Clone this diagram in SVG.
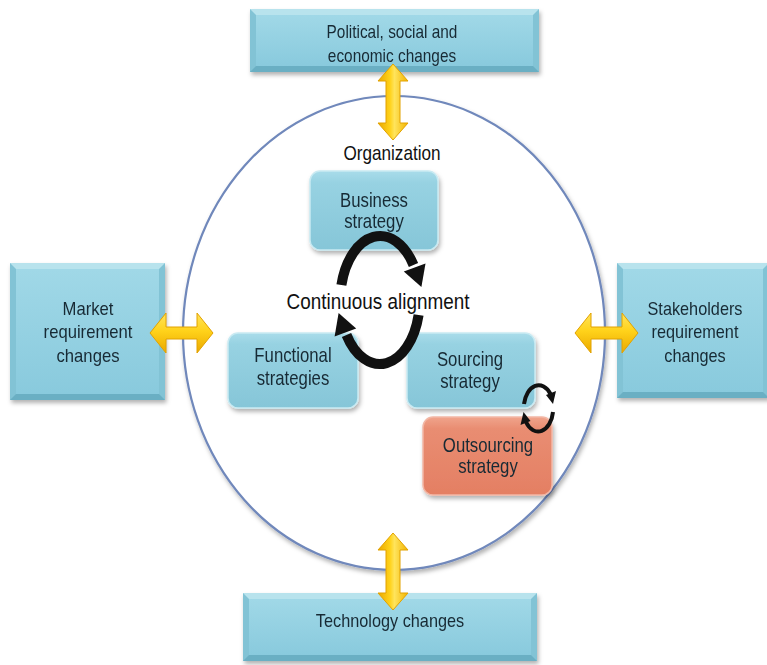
<svg xmlns="http://www.w3.org/2000/svg" width="767" height="665" viewBox="0 0 767 665">
  <style>
    .t { font-family: "Liberation Sans", Arial, sans-serif; fill: #182a34; text-anchor: middle; }
    .outer { font-size: 18.5px; }
    .inner { font-size: 19.5px; }
    .big { font-size: 21.5px; fill: #111; }
    .org { font-size: 19.5px; fill: #111; }
    .bevTop { fill: #b8e3ed; }
    .bevBot { fill: #6aafc3; }
    .bevBase { fill: #82c3d5; }
    .face { fill: url(#faceGrad); }
    .soft { fill: url(#softGrad); stroke: #c9eaf2; stroke-width: 1.5; }
    .salmon { fill: url(#salmonGrad); stroke: #f2b7a5; stroke-width: 1.5; }
    .yv { fill: url(#yellowV); stroke: #e2a200; stroke-width: 1; }
    .yh { fill: url(#yellowH); stroke: #e2a200; stroke-width: 1; }
    .cyc { fill: none; stroke: #111; }
  </style>
  <defs>
    <linearGradient id="faceGrad" x1="0" y1="0" x2="0" y2="1">
      <stop offset="0" stop-color="#a0d8e7"/>
      <stop offset="1" stop-color="#89cadd"/>
    </linearGradient>
    <linearGradient id="softGrad" x1="0" y1="0" x2="0" y2="1">
      <stop offset="0" stop-color="#a9dcea"/>
      <stop offset="0.15" stop-color="#97d2e2"/>
      <stop offset="1" stop-color="#86c6d8"/>
    </linearGradient>
    <linearGradient id="salmonGrad" x1="0" y1="0" x2="0" y2="1">
      <stop offset="0" stop-color="#f0a48c"/>
      <stop offset="0.15" stop-color="#e98d72"/>
      <stop offset="1" stop-color="#e47f63"/>
    </linearGradient>
    <linearGradient id="yellowV" x1="0" y1="0" x2="1" y2="0">
      <stop offset="0" stop-color="#eaa800"/>
      <stop offset="0.4" stop-color="#ffd21a"/>
      <stop offset="0.55" stop-color="#ffe45c"/>
      <stop offset="1" stop-color="#f2b400"/>
    </linearGradient>
    <linearGradient id="yellowH" x1="0" y1="0" x2="0" y2="1">
      <stop offset="0" stop-color="#ffe45c"/>
      <stop offset="0.45" stop-color="#ffd21a"/>
      <stop offset="1" stop-color="#eaa800"/>
    </linearGradient>
    <filter id="shadow" x="-10%" y="-10%" width="130%" height="140%">
      <feDropShadow dx="1.5" dy="3" stdDeviation="2" flood-color="#000" flood-opacity="0.3"/>
    </filter>
  </defs>

  <rect width="767" height="665" fill="#ffffff"/>

  <!-- organization boundary -->
  <g id="organization">
    <ellipse cx="394" cy="333" rx="211" ry="237" fill="#ffffff" stroke="#7088bb" stroke-width="2.2" filter="url(#shadow)"/>
    <text class="t org" transform="translate(392,160) scale(0.88,1.04)">Organization</text>
  </g>

  <!-- outer influence boxes -->
  <g id="political" filter="url(#shadow)">
    <rect class="bevBase" x="250" y="9" width="289" height="63"/>
    <polygon class="bevTop" points="250,9 539,9 533,15 256,15"/>
    <polygon class="bevBot" points="256,66 533,66 539,72 250,72"/>
    <rect class="face" x="256" y="15" width="277" height="51"/>
    <text class="t outer" transform="translate(392,38) scale(0.88,1.04)" style="font-size:17.5px">Political, social and<tspan x="0" dy="23">economic changes</tspan></text>
  </g>

  <g id="market" filter="url(#shadow)">
    <rect class="bevBase" x="10" y="263" width="155" height="137"/>
    <polygon class="bevTop" points="10,263 165,263 159,269 16,269"/>
    <polygon class="bevBot" points="16,394 159,394 165,400 10,400"/>
    <rect class="face" x="16" y="269" width="143" height="125"/>
    <text class="t outer" transform="translate(88,315) scale(0.9,1.04)">Market<tspan x="0" dy="22.5">requirement</tspan><tspan x="0" dy="22.5">changes</tspan></text>
  </g>

  <g id="stakeholders" filter="url(#shadow)">
    <rect class="bevBase" x="617" y="263" width="152" height="135"/>
    <polygon class="bevTop" points="617,263 769,263 763,269 623,269"/>
    <polygon class="bevBot" points="623,392 763,392 769,398 617,398"/>
    <rect class="face" x="623" y="269" width="140" height="123"/>
    <text class="t outer" transform="translate(695,315) scale(0.88,1.04)">Stakeholders<tspan x="0" dy="22.5">requirement</tspan><tspan x="0" dy="22.5">changes</tspan></text>
  </g>

  <g id="technology" filter="url(#shadow)">
    <rect class="bevBase" x="243" y="593" width="294" height="68"/>
    <polygon class="bevTop" points="243,593 537,593 531,599 249,599"/>
    <polygon class="bevBot" points="249,655 531,655 537,661 243,661"/>
    <rect class="face" x="249" y="599" width="282" height="56"/>
    <text class="t outer" transform="translate(390,627) scale(0.88,1.04)">Technology changes</text>
  </g>

  <!-- strategy boxes inside the organization -->
  <g id="business" filter="url(#shadow)">
    <rect class="soft" x="310" y="171" width="128" height="79" rx="10"/>
    <text class="t inner" transform="translate(374,207) scale(0.86,1.02)">Business<tspan x="0" dy="21">strategy</tspan></text>
  </g>

  <g id="functional" filter="url(#shadow)">
    <rect class="soft" x="228" y="333" width="130" height="75" rx="10"/>
    <text class="t inner" transform="translate(293,362) scale(0.86,1.02)">Functional<tspan x="0" dy="23">strategies</tspan></text>
  </g>

  <g id="sourcing" filter="url(#shadow)">
    <rect class="soft" x="407" y="333" width="128" height="75" rx="10"/>
    <text class="t inner" transform="translate(470,366) scale(0.86,1.02)">Sourcing<tspan x="0" dy="22">strategy</tspan></text>
  </g>

  <g id="outsourcing" filter="url(#shadow)">
    <rect class="salmon" x="423" y="417" width="129" height="78" rx="10"/>
    <text class="t inner" transform="translate(488,452) scale(0.86,1.02)">Outsourcing<tspan x="0" dy="21">strategy</tspan></text>
  </g>

  <!-- connectors: double-headed influence arrows and alignment cycles -->
  <g id="connectors">
    <polygon class="yv" points="393,64 408,81 400,81 400,123 408,123 393,140 378,123 386,123 386,81 378,81"/>
    <polygon class="yv" points="393,533 408,550 400,550 400,593 408,593 393,610 378,593 386,593 386,550 378,550"/>
    <polygon class="yh" points="150,333 166,313 166,327 197,327 197,313 213,333 197,353 197,339 166,339 166,353"/>
    <polygon class="yh" points="575,333 591,313 591,327 622,327 622,313 638,333 622,353 622,339 591,339 591,353"/>

    <!-- continuous alignment cycle -->
    <path class="cyc" stroke-width="10" d="M 341.4 285 A 40 65 0 0 1 413.5 265"/>
    <polygon fill="#111" points="425.5,263.5 403.8,271.5 421.4,287"/>
    <path class="cyc" stroke-width="10" d="M 418.6 315 A 40 65 0 0 1 346.5 335"/>
    <text class="t big" transform="translate(378,309) scale(0.88,1.04)">Continuous alignment</text>
    <polygon fill="#111" points="356.2,328.5 334.6,336.5 338.6,313"/>

    <!-- sourcing / outsourcing cycle -->
    <path class="cyc" stroke-width="4" d="M 524 404 A 15 23 0 0 1 550.5 394"/>
    <polygon fill="#111" points="556,391 546,395 553,404"/>
    <path class="cyc" stroke-width="4" d="M 553 412 A 15 23 0 0 1 526 422"/>
    <polygon fill="#111" points="520.5,425 530.5,421 523.5,412"/>
  </g>
</svg>
